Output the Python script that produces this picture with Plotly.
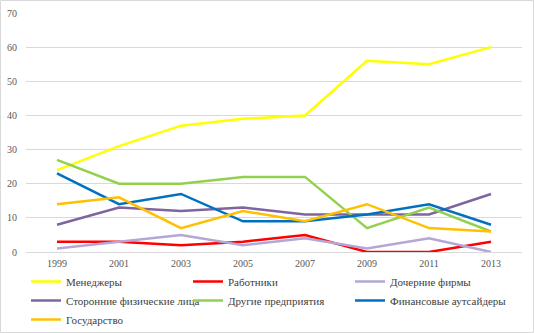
import plotly.graph_objects as go

years = ["1999", "2001", "2003", "2005", "2007", "2009", "2011", "2013"]

managers = [24, 31, 37, 39, 40, 56, 55, 60]
workers = [3, 3, 2, 3, 5, 0, 0, 3]
subsidiaries = [1, 3, 5, 2, 4, 1, 4, 0]
outside_persons = [8, 13, 12, 13, 11, 11, 11, 17]
other_firms = [27, 20, 20, 22, 22, 7, 13, 6]
financial_outsiders = [23, 14, 17, 9, 9, 11, 14, 8]
state = [14, 16, 7, 12, 9, 14, 7, 6]

series_names = ["Менеджеры", "Работники", "Дочерние фирмы",
                "Сторонние физические лица", "Другие предприятия",
                "Финансовые аутсайдеры", "Государство"]
series_values = [managers, workers, subsidiaries, outside_persons,
                 other_firms, financial_outsiders, state]
series_colors = ["#FFFF00", "#FF0000", "#B4A7D6", "#8064A2",
                 "#92D050", "#0070C0", "#FFC000"]

fig = go.Figure()
for name, vals, col in zip(series_names, series_values, series_colors):
    fig.add_trace(go.Scatter(x=years, y=vals, name=name, mode="lines",
                             line=dict(color=col, width=2.5)))

W, H = 534, 333
ml, mr, mt, mb = 26, 12, 13, 81
pw, ph = W - ml - mr, H - mt - mb

fig.update_layout(
    width=W, height=H,
    margin=dict(l=ml, r=mr, t=mt, b=mb, autoexpand=False),
    paper_bgcolor="white", plot_bgcolor="white",
    font=dict(family="Liberation Serif", color="#595959", size=10),
    xaxis=dict(type="category", range=[-0.5, 7.5], showgrid=False,
               showline=True, linecolor="#D9D9D9", linewidth=1,
               ticks="outside", ticklen=2, tickcolor="rgba(0,0,0,0)",
               tickfont=dict(size=10, color="#595959"),
               zeroline=False, fixedrange=True, automargin=False),
    yaxis=dict(range=[0, 70], dtick=10, showgrid=True, gridcolor="#D9D9D9",
               gridwidth=1, zeroline=False, showline=False,
               ticks="outside", ticklen=6, tickcolor="rgba(0,0,0,0)",
               tickfont=dict(size=10, color="#595959"), fixedrange=True,
               automargin=False),
    legend=dict(orientation="h", x=0.0, xanchor="left",
                y=-(mb + 1) / ph, yanchor="bottom",
                entrywidth=117, entrywidthmode="pixels",
                font=dict(family="Liberation Serif", size=11, color="#404040"),
                bgcolor="rgba(0,0,0,0)", traceorder="normal"),
    showlegend=True,
    shapes=[dict(type="rect", xref="paper", yref="paper",
                 x0=(0.5 - ml) / pw, x1=(W - 0.5 - ml) / pw,
                 y0=(ph + mt - (H - 0.5)) / ph, y1=(ph + mt - 0.5) / ph,
                 line=dict(color="#D9D9D9", width=1), layer="below")],
)

fig.write_html("out.html")
